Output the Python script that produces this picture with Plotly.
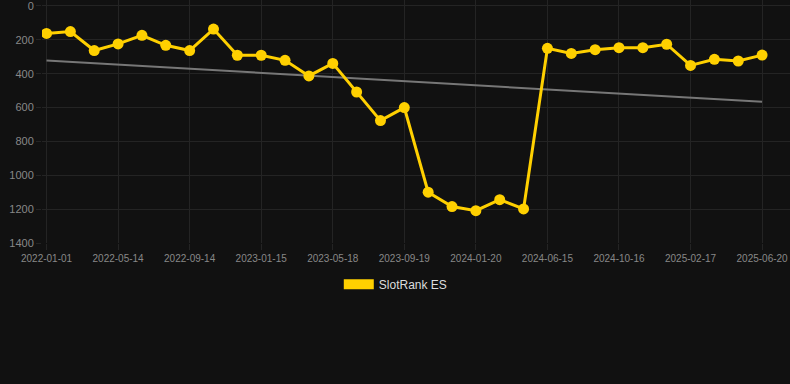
import plotly.graph_objects as go

tick_labels = ["2022-01-01", "2022-05-14", "2022-09-14", "2023-01-15", "2023-05-18",
               "2023-09-19", "2024-01-20", "2024-06-15", "2024-10-16", "2025-02-17", "2025-06-20"]
rank_values = [162, 151, 263, 224, 173, 232, 263, 136, 291, 291, 321, 413, 339, 508, 677,
               600, 1100, 1185, 1209, 1144, 1199, 250, 280, 258, 246, 246, 226, 351, 315, 325, 290]
trend_ends = [322, 566]
series_name = "SlotRank ES"

idx = list(range(len(rank_values)))
tick_pos = idx[::3]

fig = go.Figure()
fig.add_trace(go.Scatter(x=[idx[0], idx[-1]], y=trend_ends, mode="lines",
                         line=dict(color="#777777", width=2), showlegend=False, hoverinfo="skip"))
fig.add_trace(go.Scatter(x=idx, y=rank_values, mode="lines+markers",
                         line=dict(color="#FFD000", width=3),
                         marker=dict(color="#FFD000", size=11), showlegend=False))
fig.add_trace(go.Scatter(x=[None], y=[None], mode="lines", name=series_name,
                         line=dict(color="#FFD000", width=10)))

fig.update_layout(
    width=790, height=384,
    paper_bgcolor="#111111", plot_bgcolor="#111111",
    margin=dict(l=42, r=0, t=0, b=141),
    font=dict(family="Liberation Sans, Arial, sans-serif", color="#888888"),
    xaxis=dict(range=[-0.19, 31.17], tickvals=tick_pos, ticktext=tick_labels,
               showgrid=True, gridcolor="#242424", zeroline=False,
               ticks="outside", ticklen=6, tickcolor="#242424", ticklabeloverflow="allow",
               tickfont=dict(size=10, color="#888888"), showline=False),
    yaxis=dict(range=[1400, -35.4], tickvals=[0, 200, 400, 600, 800, 1000, 1200, 1400],
               showgrid=True, gridcolor="#242424", zeroline=False,
               ticks="outside", ticklen=5, tickcolor="#242424", ticklabeloverflow="allow",
               tickfont=dict(size=11, color="#888888")),
    showlegend=True,
    legend=dict(orientation="h", xref="container", yref="container",
                x=0.501, xanchor="center", y=0.26, yanchor="middle",
                font=dict(size=12, color="#dddddd"), bgcolor="rgba(0,0,0,0)"),
)
fig.write_html("out.html", config={"displayModeBar": False},
               post_script="document.body.style.margin='0';document.body.style.background='#111111';")
